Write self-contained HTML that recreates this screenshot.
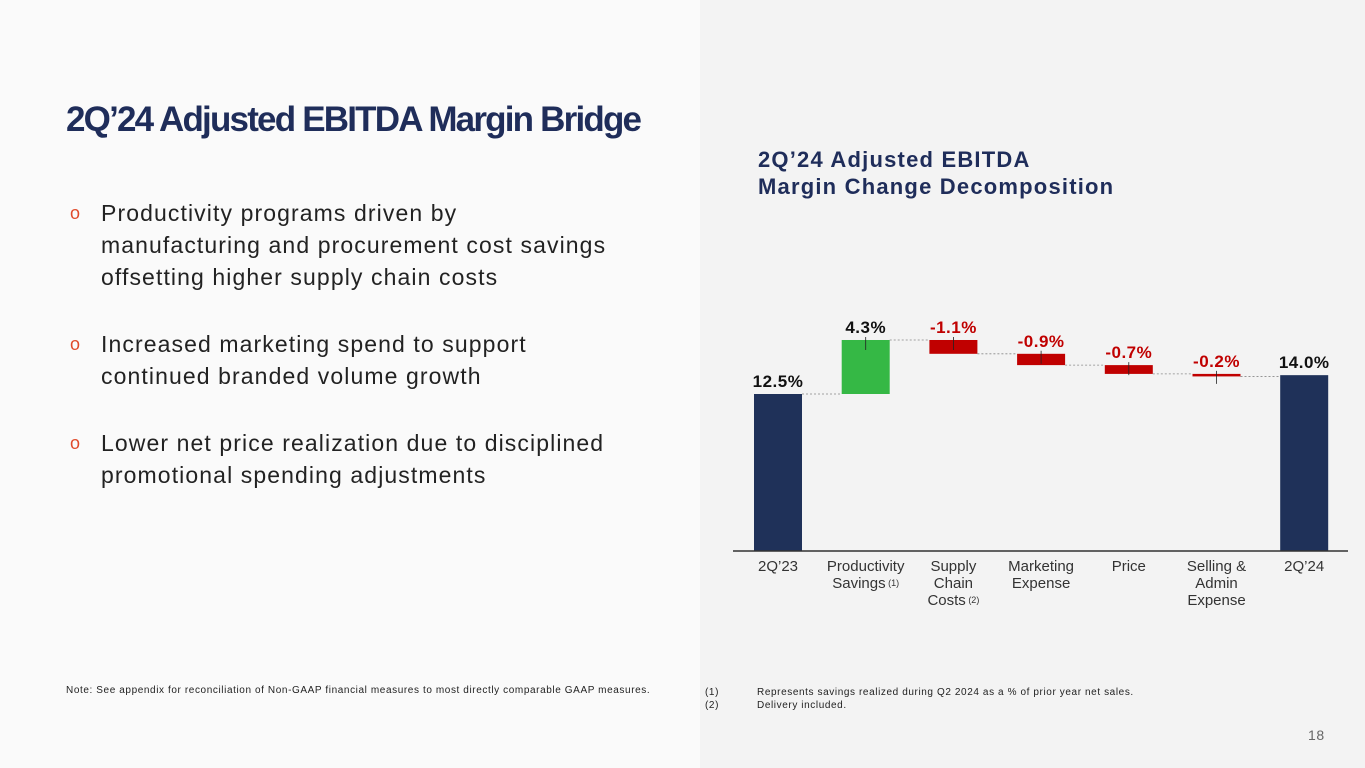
<!DOCTYPE html>
<html><head><meta charset="utf-8"><style>
body{margin:0;width:1365px;height:768px;position:relative;font-family:"Liberation Sans",sans-serif;overflow:hidden;background:#fafafa}
.right{position:absolute;left:700px;top:0;width:665px;height:768px;background:#f3f3f3}
.title{position:absolute;left:66px;top:100px;font-size:35px;font-weight:bold;color:#1f2d5a;letter-spacing:-1.8px}
.bul{position:absolute;left:70px;font-size:23px;letter-spacing:1.1px;color:#222;line-height:32px}
.bul span.o{position:absolute;left:0;color:#e04a2a;font-size:18px}
.bul div{margin-left:31px}
.ct{position:absolute;left:758px;top:146px;font-size:22px;font-weight:bold;color:#1f2d5a;line-height:27px;letter-spacing:1.2px}
.small{position:absolute;font-size:10px;color:#222;letter-spacing:0.6px}
</style></head><body>
<div class="right"></div>
<div class="title">2Q’24 Adjusted EBITDA Margin Bridge</div>
<div class="bul" style="top:197px"><span class="o">o</span><div>Productivity programs driven by<br>manufacturing and procurement cost savings<br>offsetting higher supply chain costs</div></div>
<div class="bul" style="top:328px"><span class="o">o</span><div>Increased marketing spend to support<br>continued branded volume growth</div></div>
<div class="bul" style="top:427px"><span class="o">o</span><div>Lower net price realization due to disciplined<br>promotional spending adjustments</div></div>
<div class="ct">2Q’24 Adjusted EBITDA<br>Margin Change Decomposition</div>
<svg id="chart" width="1365" height="768" style="position:absolute;left:0;top:0"></svg>
<div class="small" style="left:66px;top:685px">Note: See appendix for reconciliation of Non-GAAP financial measures to most directly comparable GAAP measures.</div>
<div class="small" style="left:705px;top:686px;line-height:13px"><span style="display:inline-block;width:52px">(1)</span>Represents savings realized during Q2 2024 as a % of prior year net sales.<br><span style="display:inline-block;width:52px">(2)</span>Delivery included.</div>
<div class="small" style="left:1308px;top:727px;font-size:14px;color:#666">18</div>
<script>
const categories=[["2Q’23"],["Productivity","Savings"],["Supply","Chain","Costs"],["Marketing","Expense"],["Price"],["Selling &","Admin","Expense"],["2Q’24"]];
const sups=["","(1)","(2)","","","",""];
const values=[12.5,4.3,-1.1,-0.9,-0.7,-0.2,14.0];
const kinds=["total","delta","delta","delta","delta","delta","total"];
const labels=["12.5%","4.3%","-1.1%","-0.9%","-0.7%","-0.2%","14.0%"];
const svg=document.getElementById('chart');const NS="http://www.w3.org/2000/svg";
const base=551,scale=12.56,x0=778,step=87.7,bw=48;
const y=v=>base-v*scale,xc=i=>x0+i*step;
function mk(t,a){const e=document.createElementNS(NS,t);for(const k in a)e.setAttribute(k,a[k]);svg.appendChild(e);return e;}
let run=0;
values.forEach((v,i)=>{
 let a,b,col;
 if(kinds[i]=="total"){a=0;b=v;run=v;col="#1f3159";}
 else{a=run;b=run+v;run=b;col=v>=0?"#35b845":"#c00000";}
 const top=y(Math.max(a,b)),bot=y(Math.min(a,b));
 const r=mk('rect',{x:xc(i)-bw/2,y:top,width:bw,height:Math.max(bot-top,2.5),fill:col});
 
 if(kinds[i]=="delta"){mk('line',{x1:xc(i),x2:xc(i),y1:top-3,y2:top+10,stroke:'#222','stroke-width':0.8});}
 if(i<values.length-1){const ly=y(run);mk('line',{x1:xc(i)+bw/2,x2:xc(i+1)-bw/2,y1:ly,y2:ly,stroke:'#888','stroke-width':0.8,'stroke-dasharray':'2,2'});}
 const t=mk('text',{x:xc(i),y:top-7,'text-anchor':'middle','font-size':17,'font-weight':'bold','letter-spacing':0.5,fill:kinds[i]=="delta"&&v<0?'#c00000':'#111','font-family':'Liberation Sans, sans-serif'});
 t.textContent=labels[i];
 categories[i].forEach((s,j)=>{const tt=mk('text',{x:xc(i),y:571+j*17,'text-anchor':'middle','font-size':15,fill:'#333','font-family':'Liberation Sans, sans-serif'});
  tt.textContent=s;
  if(j==categories[i].length-1&&sups[i]){const sp=document.createElementNS(NS,'tspan');sp.setAttribute('font-size',9);sp.setAttribute('dy',-2);sp.textContent=" "+sups[i];tt.appendChild(sp);}
  });
});
mk('line',{x1:733,x2:1348,y1:base,y2:base,stroke:'#333','stroke-width':1.5});
</script>
</body></html>
